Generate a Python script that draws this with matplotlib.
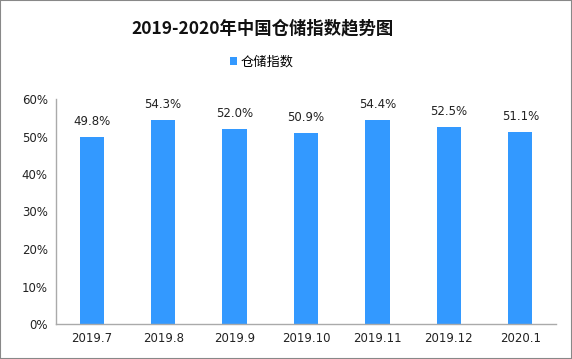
import matplotlib
matplotlib.use("Agg")
import matplotlib.pyplot as plt
from matplotlib.patches import Rectangle

categories = ["2019.7", "2019.8", "2019.9", "2019.10", "2019.11", "2019.12", "2020.1"]
values = [49.8, 54.3, 52.0, 50.9, 54.4, 52.5, 51.1]
yticks = [0, 10, 20, 30, 40, 50, 60]

plt.rcParams['font.family'] = ['Noto Sans CJK SC', 'DejaVu Sans']

fig = plt.figure(figsize=(5.72, 3.59), dpi=100)
ax = fig.add_axes([56/572, 35/359, 500/572, 225/359])

x = list(range(len(categories)))
bars = ax.bar(x, values, width=0.34, color='#3399ff', label='仓储指数', zorder=2)
for xi, v in zip(x, values):
    ax.text(xi, v + 2.4, f"{v:.1f}%", ha='center', va='bottom', fontsize=8.5,
            family=['DejaVu Sans'], color='#222222')

ax.set_xlim(-0.5, len(categories) - 0.5)
ax.set_ylim(0, 60)
ax.set_yticks(yticks)
ax.set_yticklabels([f"{t}%" for t in yticks], family=['DejaVu Sans'], fontsize=8.5)
ax.set_xticks(x)
ax.set_xticklabels(categories, family=['DejaVu Sans'], fontsize=8.5)
ax.tick_params(length=0, pad=6, colors='#222222')
for s in ['top', 'right']:
    ax.spines[s].set_visible(False)
for s in ['left', 'bottom']:
    ax.spines[s].set_color('#aaaaaa')
    ax.spines[s].set_linewidth(1)

fig.text(263/572, 1 - 28/359, "2019-2020年中国仓储指数趋势图", ha='center', va='center',
         fontsize=12.5, fontweight='bold', color='#111111')
leg = fig.legend(handles=[bars], loc='center', bbox_to_anchor=(262/572, 1 - 62/359),
                 frameon=False, fontsize=9.5, handlelength=0.5, handleheight=0.5,
                 handletextpad=0.3)

fig.patches.append(Rectangle((0, 0), 1, 1, transform=fig.transFigure, fill=False,
                             edgecolor='#888888', linewidth=1.5))

fig.savefig("out.png", dpi=100)
